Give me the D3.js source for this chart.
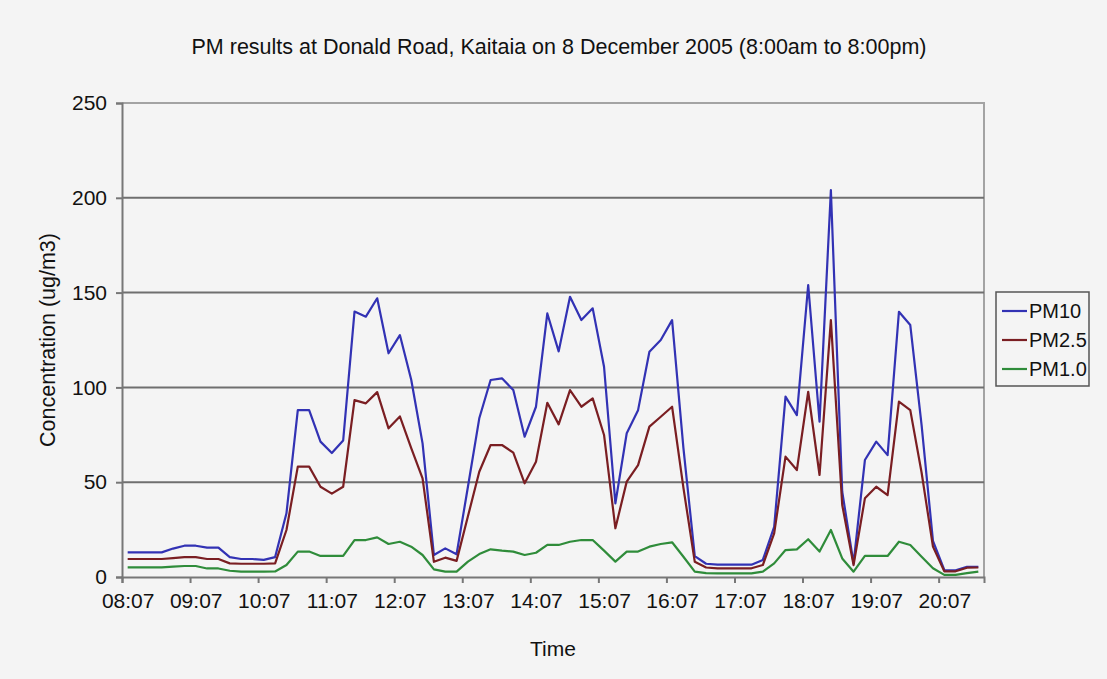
<!DOCTYPE html>
<html>
<head>
<meta charset="utf-8">
<script src="https://cdn.jsdelivr.net/npm/d3@7"></script>
<style>
  html, body { margin: 0; padding: 0; background: #f4f4f4; }
  svg { display: block; font-family: "Liberation Sans", Arial, sans-serif; }
</style>
</head>
<body>
<svg id="chart" width="1107" height="679"></svg>
<script>
// Ten-minute sampling times, 08:07 to 20:37
const times = [
  "08:07","08:17","08:27","08:37","08:47","08:57","09:07","09:17","09:27","09:37","09:47","09:57",
  "10:07","10:17","10:27","10:37","10:47","10:57","11:07","11:17","11:27","11:37","11:47","11:57",
  "12:07","12:17","12:27","12:37","12:47","12:57","13:07","13:17","13:27","13:37","13:47","13:57",
  "14:07","14:17","14:27","14:37","14:47","14:57","15:07","15:17","15:27","15:37","15:47","15:57",
  "16:07","16:17","16:27","16:37","16:47","16:57","17:07","17:17","17:27","17:37","17:47","17:57",
  "18:07","18:17","18:27","18:37","18:47","18:57","19:07","19:17","19:27","19:37","19:47","19:57",
  "20:07","20:17","20:27","20:37"
];

// Concentrations in ug/m3
const pm10 = [
  13, 13, 13, 13, 15, 16.5, 16.5, 15.5, 15.5, 10.5, 9.5, 9.5,
  9, 10.5, 33.6, 88, 88, 71.4, 65.4, 72, 140, 137.3, 147, 118,
  127.6, 104, 70.5, 11.6, 15.1, 12, 47.6, 83.7, 103.9, 104.8, 98.6, 74,
  89.8, 139, 119, 147.8, 135.5, 141.7, 110.9, 38.8, 75.8, 88, 118.8, 125,
  135.5, 68, 11, 7, 6.5, 6.5, 6.5, 6.5, 9, 26.5, 95.1, 85.4,
  154, 81.9, 204, 45, 7.2, 61.7, 71.4, 64.3, 139.9, 132.9, 80, 19,
  3.7, 3.5, 5.4, 5.4
];
const pm25 = [
  9.5, 9.5, 9.5, 9.5, 10, 10.5, 10.5, 9.5, 9.5, 7.2, 7, 7,
  7, 7.2, 24.8, 58.2, 58.2, 47.6, 44, 47.6, 93.3, 91.6, 97.5, 78.4,
  84.7, 68, 52, 8, 10.2, 8.5, 32, 55.5, 69.6, 69.6, 65.6, 49.4,
  60.8, 91.9, 80.5, 98.6, 89.8, 94.2, 74.9, 25.7, 50.3, 59, 79.3, 84.5,
  89.8, 47, 8, 5, 4.6, 4.6, 4.6, 4.6, 6.3, 23, 63.5, 56.4,
  97.7, 53.8, 135.5, 38, 6.3, 41.5, 47.6, 43.2, 92.5, 88, 55, 16,
  3, 3, 4.9, 5
];
const pm1 = [
  5.1, 5.1, 5.1, 5.1, 5.5, 5.8, 5.8, 4.5, 4.5, 3.3, 2.8, 2.8,
  2.8, 2.9, 6.3, 13.4, 13.4, 11.1, 11.1, 11.1, 19.5, 19.5, 20.9, 17.4,
  18.6, 16, 11.6, 4, 2.8, 2.8, 8.1, 12.1, 14.6, 13.9, 13.4, 11.6,
  12.8, 16.9, 16.9, 18.6, 19.5, 19.5, 13.9, 8.1, 13.4, 13.4, 16, 17.4,
  18.3, 10.7, 2.8, 2, 1.9, 1.9, 1.9, 1.9, 2.8, 7.2, 14.2, 14.6,
  19.9, 13.4, 24.8, 9.8, 2.8, 11.1, 11.1, 11.1, 18.6, 16.9, 10.7, 4.6,
  1.1, 1.1, 2, 2.8
];

const seriesNames = ["PM10", "PM2.5", "PM1.0"];
const seriesColors = ["#3232b4", "#7a1e22", "#2f8c3a"];
const yTicks = [0, 50, 100, 150, 200, 250];
const labelStep = 6;

const svg = d3.select("#chart");
const W = 1107, H = 679;
const plot = { left: 122, right: 984, top: 103, bottom: 577 };

svg.append("rect").attr("width", W).attr("height", H).attr("fill", "#f4f4f4");

// Category axis: each sample occupies one slot, points sit at slot centres
const xSlot = d3.scaleLinear().domain([0, times.length]).range([plot.left, plot.right]);
const xPos = i => xSlot(i + 0.5);
const y = d3.scaleLinear().domain([0, 250]).range([plot.bottom, plot.top]);

// Plot frame (top and right)
svg.append("path")
  .attr("d", `M${plot.left},${plot.top}H${plot.right}V${plot.bottom}`)
  .attr("fill", "none").attr("stroke", "#a3a3a3").attr("stroke-width", 2);

// Horizontal gridlines
svg.append("g").selectAll("line")
  .data(yTicks.filter(v => v > 0 && v < 250))
  .join("line")
  .attr("x1", plot.left).attr("x2", plot.right)
  .attr("y1", d => y(d)).attr("y2", d => y(d))
  .attr("stroke", "#6f6f6f").attr("stroke-width", 2);

// Y axis
const yAxis = svg.append("g")
  .attr("transform", `translate(${plot.left},0)`)
  .call(d3.axisLeft(y).tickValues(yTicks).tickSize(6).tickPadding(9).tickFormat(d3.format("d")));
yAxis.select(".domain").attr("stroke", "#777").attr("stroke-width", 2);
yAxis.selectAll(".tick line").attr("stroke", "#777").attr("stroke-width", 2);
yAxis.selectAll(".tick text").attr("font-size", 21).attr("fill", "#111")
  .attr("font-family", "Liberation Sans, Arial, sans-serif");

// X axis: tick marks at slot boundaries, labels centred on the slot
const xTickIdx = d3.range(0, times.length, labelStep);
const xAxis = svg.append("g")
  .attr("transform", `translate(0,${plot.bottom})`)
  .call(d3.axisBottom(xSlot).tickValues(xTickIdx).tickSize(6).tickPadding(10)
    .tickFormat(i => times[i]));
xAxis.select(".domain").attr("stroke", "#777").attr("stroke-width", 2);
xAxis.selectAll(".tick line").attr("stroke", "#777").attr("stroke-width", 2);
xAxis.selectAll(".tick text")
  .attr("transform", `translate(${(xSlot(1) - xSlot(0)) / 2},0)`)
  .attr("font-size", 21).attr("fill", "#111")
  .attr("font-family", "Liberation Sans, Arial, sans-serif");

// Series lines
const line = d3.line().x((d, i) => xPos(i)).y(d => y(d));
[pm10, pm25, pm1].forEach((vals, k) => {
  svg.append("path")
    .datum(vals)
    .attr("d", line)
    .attr("fill", "none")
    .attr("stroke", seriesColors[k])
    .attr("stroke-width", 2.2)
    .attr("stroke-linejoin", "round");
});

// Title
svg.append("text")
  .attr("x", 559).attr("y", 54)
  .attr("text-anchor", "middle")
  .attr("font-size", 21.5).attr("fill", "#111")
  .text("PM results at Donald Road, Kaitaia on 8 December 2005 (8:00am to 8:00pm)");

// Axis titles
svg.append("text")
  .attr("x", 553).attr("y", 656)
  .attr("text-anchor", "middle")
  .attr("font-size", 21).attr("fill", "#111")
  .text("Time");

svg.append("text")
  .attr("transform", "translate(55,340) rotate(-90)")
  .attr("text-anchor", "middle")
  .attr("font-size", 21.5).attr("fill", "#111")
  .text("Concentration (ug/m3)");

// Legend
const legend = svg.append("g").attr("transform", "translate(996,292)");
legend.append("rect")
  .attr("width", 93).attr("height", 94)
  .attr("fill", "#f4f4f4").attr("stroke", "#555").attr("stroke-width", 1.5);
seriesNames.forEach((name, k) => {
  const g = legend.append("g").attr("transform", `translate(0,${19 + k * 29})`);
  g.append("line").attr("x1", 6).attr("x2", 31).attr("y1", 0).attr("y2", 0)
    .attr("stroke", seriesColors[k]).attr("stroke-width", 2.2);
  g.append("text").attr("x", 33).attr("y", 7)
    .attr("font-size", 20).attr("fill", "#111").text(name);
});
</script>
</body>
</html>
